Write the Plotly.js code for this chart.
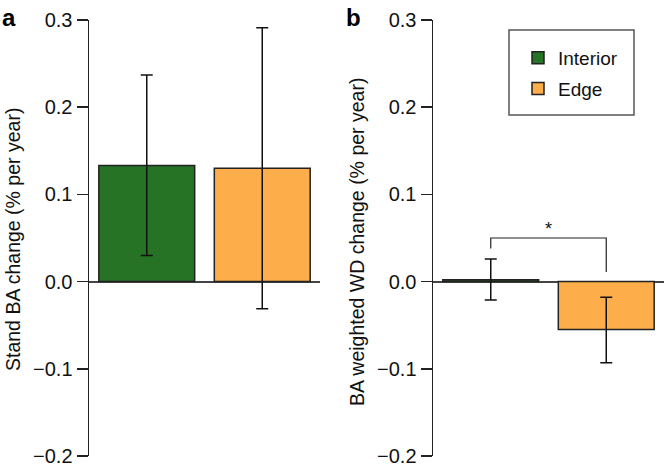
<!DOCTYPE html>
<html>
<head>
<meta charset="utf-8">
<script src="https://cdn.plot.ly/plotly-3.0.1.min.js"></script>
<style>
  html, body { margin: 0; padding: 0; background: #fff; }
  #chart { width: 664px; height: 464px; }
</style>
</head>
<body>
<div id="chart"></div>
<script>
// Site categories (x positions 0 and 1)
const groups = ['Interior', 'Edge'];
const groupX = [0, 1];
const colours = ['#267326', '#FEAD4B'];

// Panel a: stand basal area change (% per year)
const baMean = [0.133, 0.130];
const baLow = [0.030, -0.031];
const baHigh = [0.237, 0.291];

// Panel b: BA weighted wood density change (% per year)
const wdMean = [0.002, -0.055];
const wdLow = [-0.021, -0.093];
const wdHigh = [0.026, -0.018];

// significance bracket in panel b
const bracketX = [0, 0, 1, 1];
const bracketY = [0.038, 0.050, 0.050, 0.011];

const yTicks = [-0.2, -0.1, 0.0, 0.1, 0.2, 0.3];
const yTickText = ['\u22120.2', '\u22120.1', '0.0', '0.1', '0.2', '0.3'];

const FONT = 'Liberation Sans, Arial, Helvetica, sans-serif';

// plot area spans pixel rows 20..456
const TOP = 20, BOTTOM = 456;
const py = (p) => (BOTTOM - p) / (BOTTOM - TOP);

function barTrace(i, mean, low, high, xa, ya, showLegend) {
    return {
        x: [groupX[i]],
        y: [mean[i]],
        type: 'bar',
        name: groups[i],
        legendgroup: groups[i],
        showlegend: showLegend,
        xaxis: xa,
        yaxis: ya,
        width: 0.83,
        marker: { color: colours[i], line: { color: '#222', width: 1.5 } },
        error_y: {
            type: 'data',
            symmetric: false,
            array: [high[i] - mean[i]],
            arrayminus: [mean[i] - low[i]],
            color: '#111',
            thickness: 1.5,
            width: 6
        }
    };
}

const traces = [
    barTrace(0, baMean, baLow, baHigh, 'x', 'y', true),
    barTrace(1, baMean, baLow, baHigh, 'x', 'y', true),
    barTrace(0, wdMean, wdLow, wdHigh, 'x2', 'y2', false),
    barTrace(1, wdMean, wdLow, wdHigh, 'x2', 'y2', false),
    {
        x: bracketX,
        y: bracketY,
        type: 'scatter',
        mode: 'lines',
        xaxis: 'x2',
        yaxis: 'y2',
        showlegend: false,
        hoverinfo: 'skip',
        line: { color: '#222', width: 1.2 }
    }
];

function yAxis() {
    return {
        range: [-0.2, 0.3],
        tickvals: yTicks,
        ticktext: yTickText,
        ticks: 'outside',
        ticklen: 11,
        tickwidth: 1.5,
        tickcolor: '#222',
        ticklabeloverflow: 'allow',
        showline: true,
        linecolor: '#222',
        linewidth: 1.5,
        showgrid: false,
        zeroline: true,
        zerolinecolor: '#444',
        zerolinewidth: 2,
        tickfont: { family: FONT, size: 20, color: '#111' },
        fixedrange: true
    };
}

function xAxis(domain, anchor) {
    return {
        domain: domain,
        anchor: anchor,
        range: [-0.5, 1.5],
        showline: false,
        showgrid: false,
        zeroline: false,
        showticklabels: false,
        ticks: '',
        fixedrange: true
    };
}

const layout = {
    width: 664,
    height: 464,
    margin: { l: 0, r: 0, t: TOP, b: 464 - BOTTOM },
    paper_bgcolor: '#fff',
    plot_bgcolor: 'rgba(0,0,0,0)',
    barmode: 'overlay',
    font: { family: FONT, color: '#111' },
    xaxis: xAxis([89 / 664, 320 / 664], 'y'),
    yaxis: Object.assign(yAxis(), { anchor: 'x' }),
    xaxis2: xAxis([433 / 664, 1], 'y2'),
    yaxis2: Object.assign(yAxis(), { anchor: 'x2' }),
    showlegend: true,
    legend: {
        x: 518 / 664,
        y: py(39),
        xanchor: 'left',
        yanchor: 'top',
        bgcolor: 'rgba(0,0,0,0)',
        borderwidth: 0,
        traceorder: 'grouped',
        tracegroupgap: 3,
        font: { family: FONT, size: 19, color: '#111' }
    },
    shapes: [
        {
            type: 'rect',
            xref: 'paper', yref: 'paper',
            x0: 509 / 664, x1: 634 / 664,
            y0: py(115), y1: py(30),
            line: { color: '#555', width: 1.5 },
            fillcolor: 'rgba(0,0,0,0)'
        }
    ],
    annotations: [
        {
            text: '<b>a</b>', xref: 'paper', yref: 'paper',
            x: 0, y: py(2), xanchor: 'left', yanchor: 'top',
            showarrow: false, font: { family: FONT, size: 24, color: '#000' }
        },
        {
            text: '<b>b</b>', xref: 'paper', yref: 'paper',
            x: 344 / 664, y: py(2), xanchor: 'left', yanchor: 'top',
            showarrow: false, font: { family: FONT, size: 24, color: '#000' }
        },
        {
            text: 'Stand BA change (% per year)', xref: 'paper', yref: 'paper',
            x: 13 / 664, y: py(240), xanchor: 'center', yanchor: 'middle',
            textangle: -90, showarrow: false,
            font: { family: FONT, size: 19.5, color: '#111' }
        },
        {
            text: 'BA weighted WD change (% per year)', xref: 'paper', yref: 'paper',
            x: 357 / 664, y: py(242), xanchor: 'center', yanchor: 'middle',
            textangle: -90, showarrow: false,
            font: { family: FONT, size: 19.5, color: '#111' }
        },
        {
            text: '*', xref: 'x2', yref: 'y2',
            x: 0.5, y: 0.05, yanchor: 'bottom', yshift: -3,
            showarrow: false,
            font: { family: FONT, size: 18, color: '#111' }
        }
    ]
};

Plotly.newPlot('chart', traces, layout, { displayModeBar: false, staticPlot: true });
</script>
</body>
</html>
